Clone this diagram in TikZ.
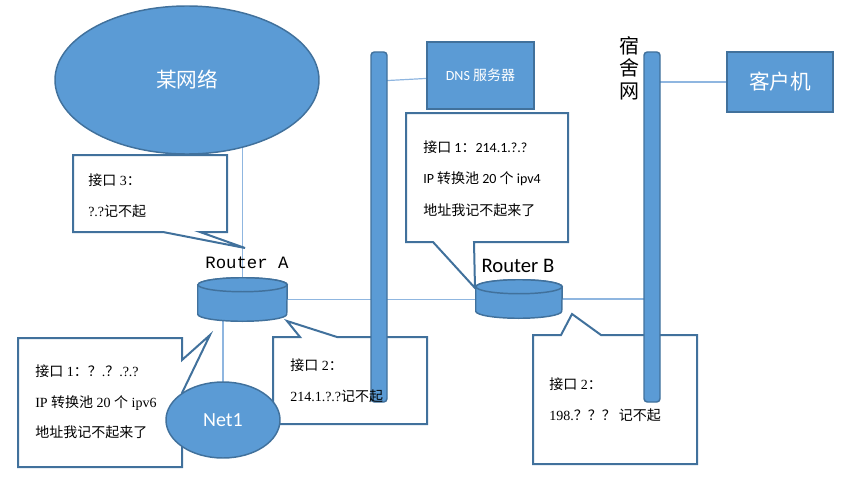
\documentclass[tikz,border=0pt]{standalone}
\usepackage{fontspec}
\setmainfont{Liberation Serif}
\newfontfamily\cjk{Noto Sans CJK SC}
\newfontfamily\cali{Carlito}
\newfontfamily\mono{Liberation Mono}
\newfontfamily\song{Liberation Serif}
\usetikzlibrary{calc, positioning, shapes.geometric}

\definecolor{netblue}{RGB}{91,155,213}
\definecolor{edgeblue}{RGB}{65,113,156}
\definecolor{linkblue}{RGB}{143,182,224}

\newcommand{\zh}[1]{{\cjk #1}}
\def\px{0.75pt}

% cylinder drawn inside the box of a named node
\newcommand{\drawrouter}[2]{%
  \draw[shape3d] ($(#1.north west)+(0,7)$) -- ($(#1.south west)+(0,-7)$)
    arc[start angle=180, end angle=0, x radius=#2, y radius=7]
    -- ($(#1.north east)+(0,7)$)
    arc[start angle=0, end angle=-180, x radius=#2, y radius=7] -- cycle;
  \draw[shape3d] ($(#1.north)+(0,7)$) ellipse[x radius=#2, y radius=7];
}

\begin{document}
\begin{tikzpicture}[x=0.75pt, y=-0.75pt,
  shape3d/.style={fill=netblue, draw=edgeblue, line width=1.1pt},
  link/.style={draw=linkblue, line width=0.9pt},
  callout/.style={draw=edgeblue, line width=1.5pt, fill=white, line join=miter},
  bar/.style={rectangle, shape3d, rounded corners=2.5pt, minimum width=16*\px, minimum height=350*\px, inner sep=0pt},
  box/.style={rectangle, shape3d, text=white, inner sep=0pt},
  blob/.style={ellipse, shape3d, text=white, inner sep=0pt},
  note/.style={anchor=west, inner sep=0pt, align=left},
  songnote/.style={note, font=\song\fontsize{10.5}{23}\selectfont},
]
\useasboundingbox (0,0) rectangle (849,478);

%% positions (nothing drawn yet)
\node[inner sep=0pt, minimum width=89*\px, minimum height=43*\px] (ra) at (242.5,299.5) {};
\node[inner sep=0pt, minimum width=86*\px, minimum height=38*\px] (rb) at (519,299) {};
\coordinate (wanc) at (187,80);
\coordinate (bar1c) at (379,227);
\coordinate (dormc) at (652,227);
\coordinate (netc) at (223,420);
\coordinate (clientc) at (780,82);
\coordinate (dnsc) at (480.5,75.5);

%% links
\draw[link] (ra.north) -- (ra.north |- wanc);
\draw[link] (ra.center) -- (ra.center -| rb.center);
\draw[link] (rb.center) -- (rb.center -| dormc);
\draw[link] (netc) -- (netc |- ra.center);
\draw[link] (dnsc) -- ($(bar1c)+(0,-146)$);
\draw[link] (clientc) -- (clientc -| dormc);

%% callouts
% interface 3
\draw[callout] (73,155) -- (227,155) -- (227,232) -- (200,232) -- (245,248)
  -- (163,232) -- (73,232) -- cycle;
% interface 1 of A
\draw[callout] (18,338) -- (182,338) -- (182,360) -- (210,335) -- (182,393)
  -- (182,467) -- (18,467) -- cycle;
% interface 2 of A
\draw[callout] (273,337) -- (300,337) -- (287,321) -- (337,337) -- (427,337)
  -- (427,424) -- (273,424) -- cycle;
% interface 1 of B
\draw[callout] (406,113) -- (568,113) -- (568,242) -- (474,242) -- (475,288)
  -- (433,242) -- (406,242) -- cycle;
% interface 2 of B
\draw[callout] (533,335) -- (561,335) -- (572,314) -- (601,335) -- (697,335)
  -- (697,464) -- (533,464) -- cycle;

%% network segments
\node[bar] (bar1) at (bar1c) {};
\node[bar] (dorm) at (dormc) {};

%% devices
\drawrouter{ra}{44.5}
\drawrouter{rb}{43}
\node[blob, minimum width=264*\px, minimum height=148*\px,
  font=\cjk\fontsize{15.5}{18}\selectfont] (wan) at (wanc) {某网络};
\node[blob, minimum width=114*\px, minimum height=76*\px,
  font=\cali\fontsize{15}{18}\selectfont] (net1) at (netc) {Net1};
\node[box, minimum width=107*\px, minimum height=67*\px,
  font=\cali\fontsize{10.5}{12}\selectfont] (dns) at (dnsc) {DNS \zh{服务器}};
\node[box, minimum width=106*\px, minimum height=60*\px,
  font=\cjk\fontsize{15.5}{18}\selectfont] (client) at (clientc) {客户机};

%% labels
\node[font=\mono\fontsize{13}{15}\selectfont, inner sep=0pt] (lbla) at (247,263) {Router A};
\node[font=\cali\fontsize{15.5}{18}\selectfont, inner sep=0pt] (lblb) at (518,266) {Router B};
\node[font=\cjk\fontsize{15}{16.9}\selectfont, align=center, inner sep=0pt] (lbldorm) at (629,68) {宿\\舍\\网};

%% callout texts
\node[songnote] (txt3) at (88,196) {\zh{接口} 3\zh{：}\\?.?\zh{记不起}};
\node[songnote] (txt1a) at (35,402) {\zh{接口} 1\zh{：？}.\zh{？}.?.?\\IP \zh{转换池} 20 \zh{个} ipv6\\\zh{地址我记不起来了}};
\node[songnote] (txt2a) at (290,381) {\zh{接口} 2\zh{：}\\214.1.?.?\zh{记不起}};
\node[note, font=\cali\fontsize{10.5}{23.5}\selectfont] (txt1b) at (423,178.5) {\zh{接口} 1\zh{：}214.1.?.?\\IP \zh{转换池} 20 \zh{个} ipv4\\\zh{地址我记不起来了}};
\node[songnote] (txt2b) at (549,400) {\zh{接口} 2\zh{：}\\198.\zh{？？？ 记不起}};

\end{tikzpicture}
\end{document}
